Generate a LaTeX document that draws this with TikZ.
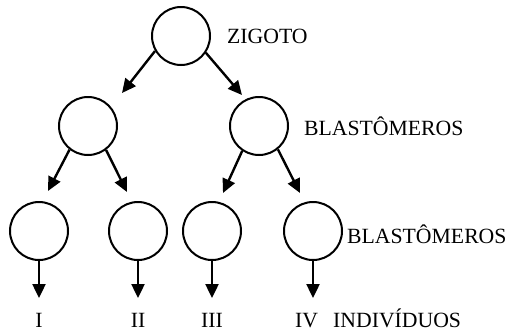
\documentclass[tikz,border=0pt]{standalone}
\usepackage{fontspec}
\setmainfont{Liberation Serif}
\usetikzlibrary{arrows.meta}

\tikzset{
  cell/.style={draw,circle,line width=2bp,minimum size=58bp,inner sep=0pt},
  seta/.style={line width=2.4bp,-{Triangle[length=14bp,width=13bp]}},
  rotulo/.style={anchor=base west,inner sep=0pt,font=\fontsize{21.8}{24}\selectfont}
}

\begin{document}
\begin{tikzpicture}[x=1bp,y=-1bp]
  \useasboundingbox (0,0) rectangle (517,333);
  \def\ycell{231};
  \def\ytip{298};
  \def\ybase{327.5};
  % zigoto and first division
  \node[cell] (zig) at (181,36) {};
  \node[cell] (b1) at (88,126) {};
  \node[cell] (b2) at (259,126) {};
  \coordinate (t1) at (122,93);
  \coordinate (t2) at (242,95);
  \draw[seta] (zig.210) -- (t1);
  \draw[seta] (zig.326) -- (t2);
  % second division
  \foreach \n/\x in {1/39,2/138,3/212,4/313}{
    \node[cell] (c\n) at (\x,\ycell) {};
    \coordinate (f\n) at (\x,\ytip);
    \draw[seta] (c\n.south) -- (f\n);
  }
  \coordinate (s1) at (48,191);
  \coordinate (s2) at (127,192);
  \coordinate (s3) at (223,193);
  \coordinate (s4) at (300,193);
  \draw[seta] (b1.232) -- (s1);
  \draw[seta] (b1.307) -- (s2);
  \draw[seta] (b2.236) -- (s3);
  \draw[seta] (b2.309) -- (s4);
  % labels
  \node[rotulo] (lz) at (227,43.5) {ZIGOTO};
  \node[rotulo] (lb1) at (304,135) {BLASTÔMEROS};
  \node[rotulo] (lb2) at (347,243) {BLASTÔMEROS};
  \foreach \n/\x/\r in {1/39/I,2/138/II,3/212/III,4/306.5/IV}
    \node[rotulo,anchor=base] (r\n) at (\x,\ybase) {\r};
  \node[rotulo] (li) at (333,\ybase) {INDIVÍDUOS};
  %\draw[gray] (0,0) rectangle (517,333);
\end{tikzpicture}
\end{document}
